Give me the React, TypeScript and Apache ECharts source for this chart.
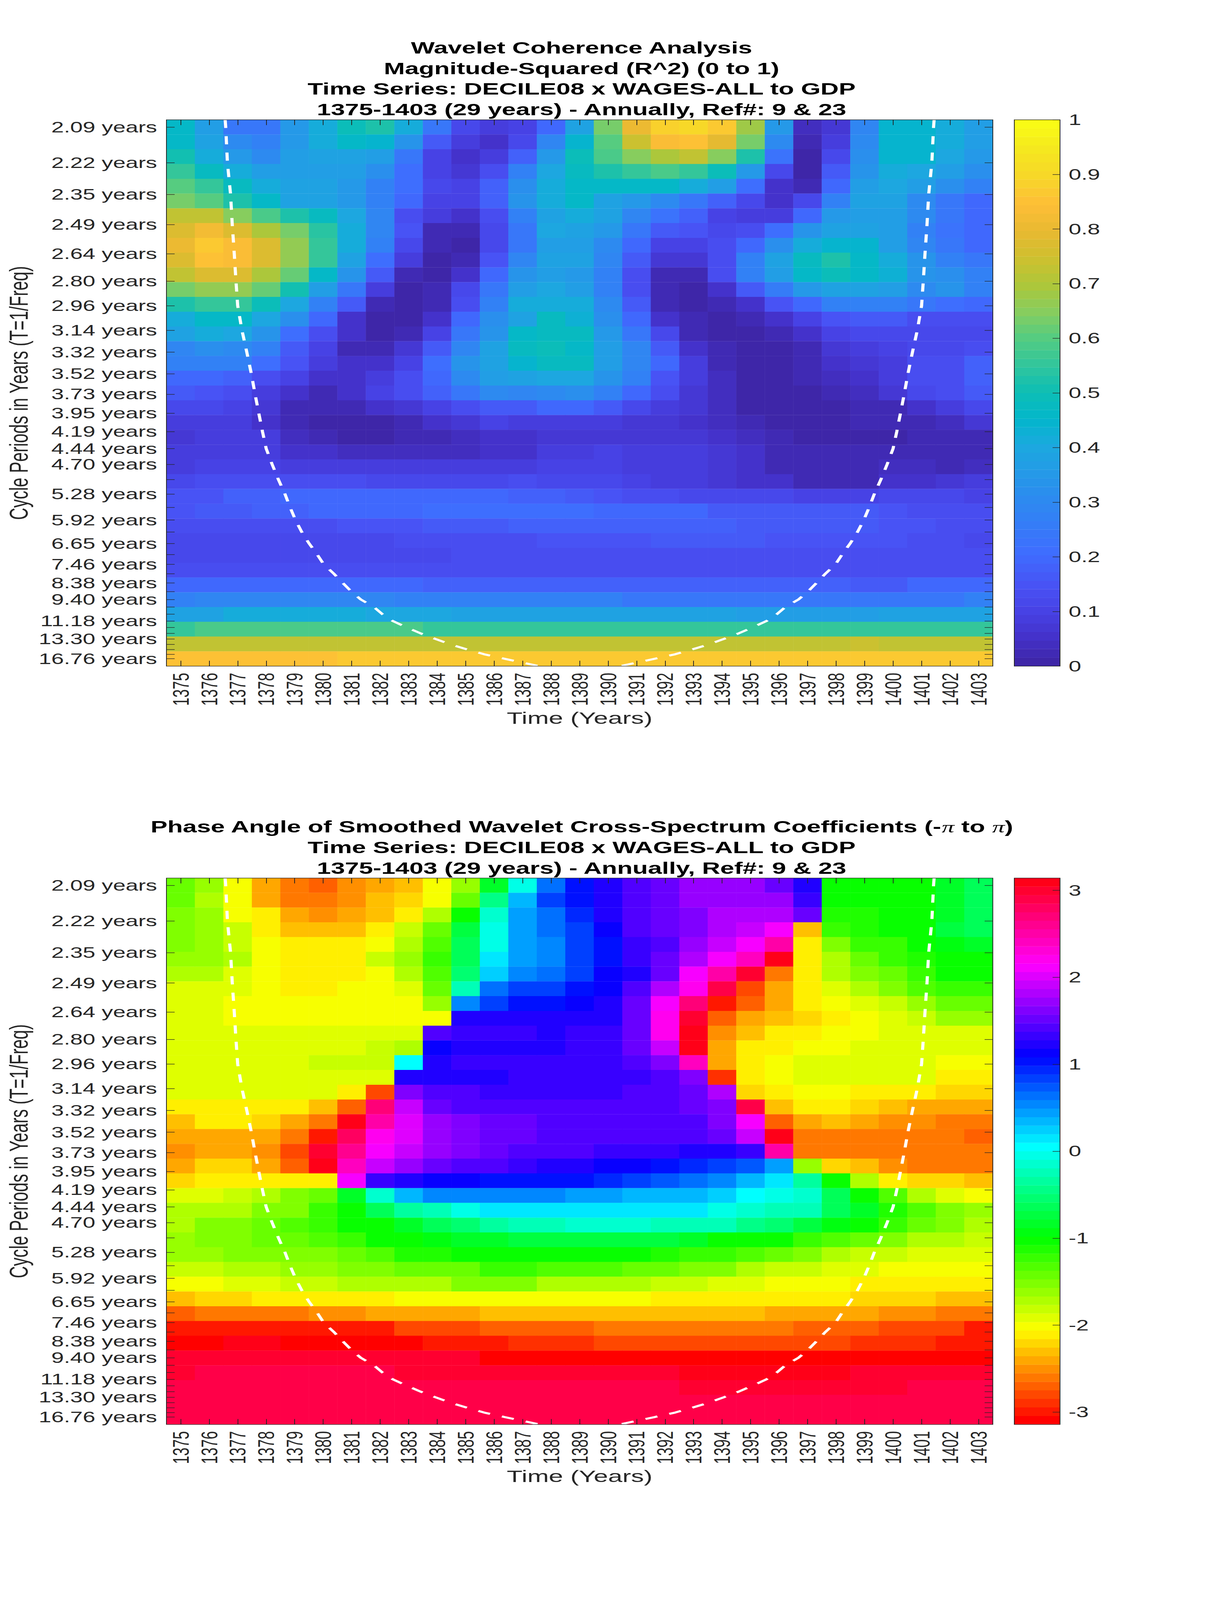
import React, { useEffect, useRef } from "react";
import * as echarts from "echarts";

const years = ["1375","1376","1377","1378","1379","1380","1381","1382","1383","1384","1385","1386","1387","1388","1389","1390","1391","1392","1393","1394","1395","1396","1397","1398","1399","1400","1401","1402","1403"];
const yearTicks = years.map(Number);
const periods = [2.09,2.22,2.35,2.49,2.64,2.80,2.96,3.14,3.32,3.52,3.73,3.95,4.19,4.44,4.70,4.98,5.28,5.59,5.92,6.27,6.65,7.05,7.46,7.90,8.38,8.88,9.40,9.96,10.55,11.18,11.85,12.55,13.30,14.09,14.93,15.82,16.76];
const labelledPeriods = [2.09,2.22,2.35,2.49,2.64,2.80,2.96,3.14,3.32,3.52,3.73,3.95,4.19,4.44,4.70,5.28,5.92,6.65,7.46,8.38,9.40,11.18,13.30,16.76];

const coherenceRows = [
[.46,.36,.25,.25,.35,.41,.49,.52,.41,.25,.12,.09,.10,.19,.39,.63,.81,.88,.90,.87,.68,.35,.04,.07,.29,.44,.44,.41,.37],
[.46,.39,.30,.27,.35,.41,.46,.45,.34,.16,.08,.05,.11,.29,.45,.60,.75,.84,.85,.79,.63,.31,.03,.08,.30,.44,.44,.41,.37],
[.51,.42,.35,.31,.36,.38,.38,.37,.25,.10,.05,.09,.18,.35,.49,.58,.65,.70,.72,.65,.53,.22,.01,.11,.32,.44,.44,.40,.35],
[.55,.48,.41,.37,.37,.37,.37,.32,.21,.10,.07,.14,.28,.40,.47,.53,.55,.58,.56,.50,.35,.12,.01,.16,.34,.42,.40,.37,.32],
[.60,.55,.47,.41,.38,.38,.35,.28,.21,.11,.10,.18,.32,.41,.46,.46,.46,.46,.41,.36,.21,.06,.03,.20,.36,.40,.36,.32,.27],
[.63,.60,.53,.46,.39,.38,.35,.28,.19,.10,.10,.18,.33,.41,.46,.38,.35,.30,.24,.18,.12,.06,.11,.28,.39,.39,.31,.25,.20],
[.72,.72,.65,.59,.53,.47,.40,.29,.14,.08,.05,.14,.28,.39,.41,.39,.29,.22,.18,.10,.08,.09,.20,.35,.37,.37,.30,.25,.20],
[.77,.82,.78,.70,.63,.54,.42,.29,.15,.03,.02,.11,.25,.40,.39,.35,.25,.17,.15,.12,.14,.21,.33,.39,.39,.36,.28,.22,.20],
[.80,.86,.84,.78,.67,.56,.42,.27,.12,.03,.01,.12,.25,.37,.36,.30,.20,.10,.10,.14,.20,.32,.42,.45,.45,.36,.29,.24,.20],
[.78,.85,.84,.78,.67,.55,.38,.21,.08,.01,.03,.15,.29,.38,.38,.29,.16,.07,.07,.14,.28,.39,.47,.53,.46,.41,.33,.28,.25],
[.72,.78,.78,.70,.61,.46,.33,.16,.03,.01,.05,.20,.33,.37,.35,.28,.14,.03,.03,.14,.28,.37,.46,.49,.46,.43,.34,.32,.28],
[.63,.67,.67,.61,.51,.37,.25,.08,.01,.03,.11,.25,.36,.40,.37,.28,.13,.02,.01,.06,.16,.26,.35,.38,.38,.36,.30,.34,.28],
[.53,.56,.55,.50,.40,.28,.16,.03,.01,.03,.14,.28,.41,.42,.42,.31,.16,.03,.00,.02,.06,.15,.20,.27,.28,.28,.25,.21,.20],
[.42,.46,.46,.40,.32,.19,.06,.01,.01,.06,.20,.32,.38,.48,.43,.32,.19,.06,.02,.01,.02,.06,.10,.15,.16,.16,.14,.14,.14],
[.38,.41,.40,.33,.21,.14,.05,.01,.02,.10,.25,.34,.46,.47,.47,.35,.25,.12,.03,.01,.01,.02,.06,.10,.11,.11,.12,.12,.12],
[.29,.32,.30,.27,.16,.10,.03,.02,.07,.16,.29,.38,.47,.50,.46,.37,.29,.16,.06,.02,.01,.01,.02,.07,.08,.10,.11,.12,.14],
[.27,.27,.27,.21,.15,.08,.05,.05,.10,.21,.34,.39,.45,.47,.47,.37,.29,.19,.08,.03,.01,.01,.02,.05,.07,.08,.14,.14,.18],
[.20,.20,.18,.14,.10,.05,.05,.08,.14,.20,.30,.37,.39,.40,.40,.34,.27,.15,.08,.04,.01,.01,.03,.04,.05,.08,.14,.14,.18],
[.16,.15,.14,.09,.06,.03,.05,.10,.14,.18,.25,.30,.29,.30,.32,.27,.20,.14,.07,.04,.01,.01,.01,.03,.04,.07,.11,.14,.16],
[.11,.12,.10,.07,.03,.02,.03,.05,.07,.10,.13,.16,.17,.20,.19,.16,.12,.09,.07,.04,.01,.01,.01,.01,.03,.03,.05,.09,.11],
[.08,.09,.09,.05,.02,.01,.01,.01,.03,.05,.07,.10,.09,.09,.09,.09,.07,.07,.06,.04,.03,.01,.01,.01,.02,.02,.03,.04,.07],
[.07,.08,.08,.08,.04,.03,.01,.01,.02,.03,.04,.05,.05,.07,.07,.07,.07,.07,.07,.05,.04,.03,.01,.01,.01,.01,.02,.03,.03],
[.08,.09,.09,.09,.06,.05,.04,.04,.04,.04,.04,.05,.05,.09,.09,.10,.09,.09,.08,.07,.05,.03,.03,.03,.03,.02,.02,.03,.03],
[.09,.10,.10,.10,.09,.09,.08,.08,.08,.08,.08,.09,.09,.10,.10,.10,.09,.08,.08,.07,.05,.03,.03,.03,.03,.04,.04,.03,.04],
[.12,.13,.13,.13,.13,.13,.13,.12,.12,.12,.12,.12,.13,.12,.11,.11,.10,.09,.08,.07,.05,.05,.03,.03,.03,.05,.05,.07,.08],
[.15,.15,.18,.18,.19,.19,.19,.19,.19,.19,.19,.19,.18,.18,.17,.15,.14,.13,.12,.12,.11,.11,.10,.10,.10,.11,.11,.11,.10],
[.15,.16,.16,.18,.18,.19,.19,.19,.20,.21,.21,.21,.21,.21,.21,.20,.20,.19,.19,.17,.17,.16,.16,.16,.16,.15,.14,.14,.14],
[.13,.13,.13,.13,.14,.14,.15,.15,.15,.17,.17,.17,.18,.18,.18,.18,.18,.18,.18,.18,.17,.17,.17,.16,.16,.15,.15,.14,.14],
[.12,.11,.11,.11,.12,.12,.12,.12,.13,.13,.13,.14,.14,.15,.15,.15,.15,.16,.16,.16,.16,.15,.15,.15,.15,.15,.13,.13,.12],
[.12,.12,.12,.12,.12,.12,.12,.12,.12,.12,.13,.13,.13,.13,.13,.13,.13,.13,.14,.14,.14,.14,.14,.14,.13,.13,.13,.13,.13],
[.14,.14,.14,.14,.14,.14,.14,.14,.14,.14,.14,.14,.14,.14,.14,.14,.14,.14,.14,.14,.14,.14,.14,.14,.14,.14,.14,.14,.14],
[.19,.19,.19,.19,.19,.19,.19,.19,.19,.18,.18,.18,.18,.18,.18,.18,.18,.18,.18,.18,.18,.18,.18,.18,.17,.17,.19,.19,.19],
[.28,.29,.29,.29,.29,.29,.29,.29,.28,.28,.28,.28,.28,.28,.28,.28,.25,.25,.25,.25,.25,.25,.25,.25,.25,.25,.25,.25,.28],
[.39,.39,.41,.41,.41,.41,.41,.40,.40,.40,.39,.38,.38,.39,.38,.38,.38,.38,.38,.38,.37,.36,.36,.36,.36,.38,.38,.38,.38],
[.55,.58,.58,.58,.58,.58,.58,.58,.58,.56,.56,.56,.56,.56,.55,.55,.55,.55,.55,.55,.55,.55,.55,.55,.55,.55,.55,.56,.56],
[.72,.72,.72,.72,.72,.72,.72,.72,.72,.72,.72,.72,.72,.72,.72,.72,.72,.72,.72,.72,.72,.72,.72,.72,.75,.72,.72,.72,.72],
[.85,.85,.85,.85,.85,.85,.86,.86,.86,.86,.86,.86,.86,.86,.86,.86,.86,.86,.86,.86,.86,.86,.86,.86,.86,.86,.86,.86,.86],
];

const phaseRows = [
[-1.45,-1.64,-1.97,-2.38,-2.65,-2.67,-2.55,-2.45,-2.28,-2.06,-1.6,-.85,0,.65,1.05,1.24,1.44,1.57,1.71,1.71,1.71,1.57,1.2,-1.05,-1.05,-1.05,-1.03,-.85,-.65],
[-1.45,-1.67,-1.97,-2.38,-2.58,-2.58,-2.48,-2.35,-2.25,-1.97,-1.45,-.45,.33,.79,1.05,1.25,1.44,1.57,1.71,1.71,1.71,1.71,1.31,-1.05,-1.05,-1.03,-1,-.85,-.65],
[-1.57,-1.64,-1.97,-2.15,-2.38,-2.48,-2.38,-2.28,-2.09,-1.76,-1.05,-.15,.45,.62,.91,1.18,1.38,1.57,1.64,1.77,1.78,1.8,1.55,-1.1,-1.1,-1.05,-1,-.8,-.65],
[-1.57,-1.64,-1.85,-2.09,-2.28,-2.28,-2.28,-2.09,-1.85,-1.44,-.72,0,.45,.62,.79,1.12,1.38,1.55,1.65,1.78,1.96,2.09,-2.35,-1.24,-1.1,-1.05,-1,-.78,-.62],
[-1.57,-1.64,-1.85,-1.97,-2.15,-2.15,-2.09,-1.97,-1.75,-1.3,-.65,0,.42,.58,.79,1.05,1.3,1.44,1.71,1.9,2.09,2.55,-2.09,-1.5,-1.24,-1.18,-1.05,-.93,-.8],
[-1.64,-1.64,-1.75,-1.97,-2.09,-2.09,-2.09,-1.85,-1.64,-1.24,-.65,.12,.45,.58,.85,1.05,1.31,1.55,1.83,2.09,2.45,3.14,-2.09,-1.67,-1.44,-1.24,-1.13,-1.03,-1.03],
[-1.75,-1.75,-1.87,-1.97,-2.09,-2.09,-2.09,-1.97,-1.75,-1.32,-.52,.22,.52,.65,.85,1.12,1.25,1.5,2.09,2.55,2.95,-2.58,-2.09,-1.75,-1.57,-1.38,-1.24,-1.05,-1.05],
[-1.87,-1.87,-1.87,-1.97,-2.09,-2.09,-1.97,-1.97,-1.87,-1.44,-.22,.65,.79,.85,1.05,1.12,1.38,1.83,2.25,2.88,-2.8,-2.45,-2.09,-1.87,-1.67,-1.57,-1.36,-1.24,-1.2],
[-1.87,-1.87,-1.97,-1.97,-1.97,-1.97,-1.97,-1.97,-1.97,-1.64,.58,.85,1.05,1.05,1.13,1.2,1.5,2.09,2.74,-3,-2.67,-2.38,-2.15,-2,-1.9,-1.85,-1.6,-1.42,-1.4],
[-1.87,-1.87,-1.97,-1.97,-1.97,-1.97,-1.97,-1.97,-1.97,-1.97,1.18,1.18,1.18,1.18,1.2,1.25,1.5,2.2,2.95,-2.74,-2.45,-2.28,-2.22,-2.07,-1.97,-1.9,-1.78,-1.65,-1.65],
[-1.87,-1.87,-1.87,-1.87,-1.87,-1.87,-1.87,-1.87,-1.87,1.38,1.28,1.28,1.28,1.22,1.28,1.33,1.57,2.2,3.14,-2.55,-2.35,-2.15,-2.09,-1.97,-1.97,-1.87,-1.87,-1.87,-1.87],
[-1.87,-1.87,-1.87,-1.87,-1.87,-1.87,-1.87,-1.78,-1.67,1.13,1.27,1.27,1.27,1.22,1.28,1.33,1.5,1.96,3.14,-2.45,-2.15,-2.09,-1.97,-1.97,-1.87,-1.87,-1.87,-1.87,-1.87],
[-1.87,-1.87,-1.87,-1.87,-1.87,-1.78,-1.78,-1.78,.08,1.18,1.28,1.28,1.28,1.28,1.33,1.33,1.44,1.64,2.45,-2.38,-2.09,-1.97,-1.87,-1.87,-1.87,-1.87,-1.87,-1.97,-1.97],
[-1.87,-1.87,-1.87,-1.87,-1.87,-1.87,-1.87,-1.87,1.27,1.27,1.27,1.27,1.31,1.32,1.32,1.32,1.32,1.44,1.64,-2.85,-2.09,-1.97,-1.87,-1.87,-1.87,-1.93,-1.93,-2.09,-2.09],
[-1.92,-1.92,-1.92,-1.92,-1.92,-1.92,-2.15,-2.8,1.6,1.38,1.38,1.32,1.32,1.32,1.32,1.32,1.42,1.42,1.5,1.83,-2.25,-2.09,-1.97,-1.97,-2.07,-2.15,-2.15,-2.25,-2.25],
[-2.07,-2.07,-2.07,-2.07,-2.15,-2.28,-2.67,2.74,1.96,1.57,1.45,1.38,1.4,1.42,1.44,1.44,1.44,1.44,1.5,1.58,2.85,-2.28,-2.15,-2.15,-2.25,-2.35,-2.45,-2.45,-2.45],
[-2.28,-2.15,-2.15,-2.25,-2.38,-2.65,3.14,2.55,2.02,1.72,1.65,1.55,1.55,1.46,1.46,1.46,1.46,1.46,1.44,1.6,2.12,-2.74,-2.45,-2.35,-2.45,-2.55,-2.55,-2.65,-2.65],
[-2.38,-2.38,-2.38,-2.38,-2.58,-2.95,2.8,2.25,2,1.68,1.62,1.5,1.5,1.44,1.44,1.44,1.44,1.44,1.44,1.5,1.87,3.14,-2.58,-2.58,-2.58,-2.65,-2.65,-2.65,-2.74],
[-2.48,-2.38,-2.38,-2.48,-2.78,3,2.62,2.15,1.87,1.72,1.65,1.52,1.44,1.45,1.45,1.33,1.33,1.33,1.26,1.26,1.33,2.55,-2.58,-2.58,-2.58,-2.65,-2.65,-2.65,-2.65],
[-2.38,-2.25,-2.25,-2.38,-2.67,3.14,2.45,1.96,1.72,1.5,1.44,1.44,1.33,1.25,1.25,1.13,1.13,1.05,.98,.85,.72,.45,-1.64,-2.25,-2.35,-2.48,-2.58,-2.58,-2.58],
[-2.2,-2.07,-2.07,-2.07,-2.07,-2.13,2.09,1.31,1.18,1.12,1.12,1.05,1.05,1.05,1.05,.91,.79,.72,.65,.52,.33,.12,-.35,-1.05,-1.75,-2.09,-2.25,-2.25,-2.35],
[-1.87,-1.87,-1.78,-1.67,-1.57,-1.38,-.85,-.18,.33,.5,.58,.58,.58,.58,.48,.48,.39,.39,.33,.2,.08,0,-.15,-.6,-1,-1.3,-1.67,-1.87,-1.97],
[-1.67,-1.67,-1.67,-1.57,-1.5,-1.24,-1,-.65,-.35,-.22,0,.1,.1,.1,.1,.1,.1,.1,.1,0,-.12,-.22,-.22,-.6,-.85,-1.1,-1.34,-1.5,-1.64],
[-1.67,-1.57,-1.57,-1.44,-1.34,-1.24,-1.05,-1.05,-.8,-.6,-.55,-.35,-.26,-.26,-.18,-.18,-.18,-.28,-.28,-.28,-.4,-.52,-.72,-.9,-1.05,-1.24,-1.44,-1.53,-1.67],
[-1.62,-1.53,-1.53,-1.44,-1.44,-1.34,-1.24,-1.05,-1.05,-.95,-.87,-.87,-.72,-.72,-.72,-.72,-.72,-.72,-.87,-1,-1.05,-1.05,-1.18,-1.3,-1.44,-1.5,-1.67,-1.67,-1.78],
[-1.64,-1.64,-1.55,-1.55,-1.55,-1.55,-1.44,-1.3,-1.15,-1.15,-1.05,-1.05,-1.05,-1.05,-1.05,-1.05,-1.05,-1.13,-1.2,-1.2,-1.34,-1.44,-1.57,-1.67,-1.78,-1.78,-1.87,-1.87,-1.87],
[-1.78,-1.78,-1.67,-1.67,-1.62,-1.62,-1.5,-1.5,-1.4,-1.4,-1.4,-1.27,-1.27,-1.32,-1.32,-1.32,-1.44,-1.44,-1.57,-1.57,-1.67,-1.78,-1.78,-1.87,-1.87,-1.97,-1.97,-1.97,-1.97],
[-1.97,-1.97,-1.87,-1.87,-1.78,-1.78,-1.67,-1.67,-1.67,-1.67,-1.57,-1.57,-1.57,-1.67,-1.67,-1.67,-1.67,-1.78,-1.78,-1.87,-1.87,-1.97,-1.97,-1.97,-2.09,-2.09,-2.09,-2.09,-2.09],
[-2.35,-2.25,-2.25,-2.15,-2.15,-2.15,-2.09,-2.09,-1.97,-1.97,-1.97,-1.97,-1.97,-1.97,-1.97,-1.97,-1.97,-2.09,-2.09,-2.09,-2.09,-2.15,-2.15,-2.15,-2.25,-2.25,-2.25,-2.35,-2.35],
[-2.74,-2.65,-2.65,-2.65,-2.65,-2.55,-2.55,-2.45,-2.45,-2.45,-2.45,-2.35,-2.35,-2.35,-2.35,-2.35,-2.35,-2.35,-2.35,-2.35,-2.35,-2.45,-2.45,-2.45,-2.45,-2.55,-2.55,-2.65,-2.65],
[-3,-3,-3,-3,-3,-2.95,-2.95,-2.95,-2.82,-2.82,-2.82,-2.74,-2.74,-2.74,-2.74,-2.65,-2.65,-2.65,-2.65,-2.65,-2.65,-2.65,-2.74,-2.74,-2.74,-2.82,-2.82,-2.82,-2.95],
[-3.13,-3.13,3.07,3.07,-3.12,-3.12,-3.12,-3.12,-3.12,-3,-3,-3,-2.88,-2.88,-2.88,-2.8,-2.8,-2.8,-2.8,-2.8,-2.8,-2.8,-2.8,-2.8,-2.92,-2.92,-2.92,-3,-3],
[2.95,2.95,2.95,2.95,2.95,2.95,2.95,2.95,3,3,3,-3.12,-3.12,-3.12,-3.12,-3.05,-3.05,-3.05,-3.05,-3.05,-3.05,-3.05,-3.05,-3.05,-3.05,-3.05,-3.12,-3.12,-3.12],
[2.95,2.85,2.85,2.85,2.85,2.85,2.85,2.85,2.95,2.95,2.95,2.95,2.95,3.03,3.03,3.03,3.03,3.03,3.12,3.12,3.12,3.12,3.12,3.12,3.02,3.02,3.02,3.02,3.02],
[2.85,2.85,2.85,2.85,2.85,2.85,2.85,2.85,2.85,2.85,2.85,2.85,2.92,2.92,2.92,2.92,2.92,2.92,2.98,2.98,2.98,2.98,2.98,2.98,2.98,2.98,2.9,2.9,2.9],
[2.85,2.85,2.85,2.85,2.85,2.85,2.85,2.85,2.85,2.85,2.85,2.85,2.85,2.85,2.85,2.92,2.92,2.92,2.92,2.92,2.92,2.92,2.92,2.92,2.92,2.92,2.92,2.92,2.92],
[2.85,2.85,2.85,2.85,2.85,2.85,2.85,2.85,2.85,2.85,2.85,2.85,2.85,2.85,2.85,2.85,2.85,2.85,2.85,2.85,2.92,2.92,2.92,2.92,2.92,2.92,2.85,2.85,2.85],
];

// cone of influence: period (years) and the year on each flank
const coiPeriods = [2.065,2.09,2.22,2.35,2.49,2.64,2.80,2.96,3.14,3.32,3.52,3.73,3.95,4.19,4.44,4.70,4.98,5.28,5.59,5.92,6.27,6.65,7.05,7.46,7.90,8.38,8.88,9.40,9.96,10.55,11.18,11.85,12.55,13.30,14.09,14.93,15.82,16.76,18.56];
const coiLeftYears = [1376.56,1376.58,1376.64,1376.75,1376.81,1376.88,1376.94,1377.0,1377.15,1377.32,1377.48,1377.61,1377.74,1377.87,1378.0,1378.21,1378.43,1378.66,1378.84,1379.03,1379.25,1379.51,1379.79,1380.02,1380.38,1380.69,1380.99,1381.32,1381.78,1382.08,1382.44,1382.93,1383.42,1383.95,1384.47,1385.06,1385.65,1386.37,1387.58];
const coiRightYears = [1401.44,1401.42,1401.36,1401.25,1401.19,1401.12,1401.06,1401.0,1400.85,1400.68,1400.52,1400.39,1400.26,1400.13,1400.0,1399.79,1399.57,1399.34,1399.16,1398.97,1398.75,1398.49,1398.21,1397.98,1397.62,1397.31,1397.01,1396.68,1396.22,1395.92,1395.56,1395.07,1394.58,1394.05,1393.53,1392.94,1392.35,1391.63,1390.42];

const coherenceTicks = [0,0.1,0.2,0.3,0.4,0.5,0.6,0.7,0.8,0.9,1];
const phaseTicks = [-3,-2,-1,0,1,2,3];
const coherenceTitle = "Wavelet Coherence Analysis\nMagnitude-Squared (R^2) (0 to 1)\nTime Series: DECILE08 x WAGES-ALL to GDP\n1375-1403 (29 years) - Annually, Ref#: 9 & 23";
const phaseTitle = "Phase Angle of Smoothed Wavelet Cross-Spectrum Coefficients (-{pi|π} to {pi|π})\nTime Series: DECILE08 x WAGES-ALL to GDP\n1375-1403 (29 years) - Annually, Ref#: 9 & 23";

const parulaStops: [number, string][] = [
  [0,"#3E26A8"],[0.05,"#4433CD"],[0.1,"#4744E8"],[0.14,"#4852F4"],[0.2,"#3F6CFF"],[0.3,"#2D8AF0"],[0.4,"#1CA8DF"],[0.45,"#03B6CC"],[0.5,"#0CBEB5"],[0.55,"#30C59D"],[0.6,"#53CC82"],[0.65,"#86CD5F"],[0.7,"#ADC73A"],[0.75,"#CEC02F"],[0.8,"#E8B931"],[0.85,"#FEBE37"],[0.9,"#F7D629"],[0.95,"#F5E71F"],[1,"#F9FB15"],
];
const LEVELS = 64;
const hex = (c: string) => [1, 3, 5].map((i) => parseInt(c.slice(i, i + 2), 16));
function parula(t: number) {
  let k = 0;
  while (k < parulaStops.length - 2 && t > parulaStops[k + 1][0]) k++;
  const [a, ca] = parulaStops[k];
  const [b, cb] = parulaStops[k + 1];
  const f = (t - a) / (b - a);
  const A = hex(ca), B = hex(cb);
  return `rgb(${A.map((v, i) => Math.round(v + (B[i] - v) * f)).join(",")})`;
}
function hsvColor(i: number) {
  return `hsl(${(i / LEVELS) * 360},100%,50%)`;
}
function pieces(min: number, max: number, colorOf: (i: number) => string) {
  return Array.from({ length: LEVELS }, (_, i) => ({
    min: i === 0 ? min - 1 : min + ((max - min) * i) / LEVELS,
    max: i === LEVELS - 1 ? max + 1 : min + ((max - min) * (i + 1)) / LEVELS,
    color: colorOf(i),
  }));
}

const PI = Math.PI;
const freq = periods.map((p) => 1 / p);
const step = (freq[0] - freq[freq.length - 1]) / (freq.length - 1);
const fMax = freq[0] + step / 2;
const fMin = freq[freq.length - 1] - step / 2;

const FONT = "Liberation Sans";
const TXT = "#262626";
const PAGE_W = 3125, PAGE_H = 6252;
const PLOT_L = 426, PLOT_W = 2115, PLOT_H = 2135, BAR_L = 2596, BAR_W = 117;
const TICK = 21;

function buildPanel(opts: {
  top: number; rows: number[][]; vMin: number; vMax: number; ticks: number[];
  colorOf: (i: number) => string; title: string; titleTop: number;
}, o: any) {
  const { top, rows, vMin, vMax, ticks, colorOf, title, titleTop } = opts;
  const gMain = o.grid.length, gBar = gMain + 1;
  o.grid.push(
    { left: PLOT_L, top, width: PLOT_W, height: PLOT_H, outerBoundsMode: "none" },
    { left: BAR_L, top, width: BAR_W, height: PLOT_H, outerBoundsMode: "none" }
  );
  o.title.push({
    text: title, left: PLOT_L + PLOT_W / 2, top: titleTop, textAlign: "center",
    textStyle: {
      fontFamily: FONT, fontSize: 64.5, fontWeight: "bold", color: "#000", lineHeight: 80.5,
      rich: { pi: { fontFamily: "Liberation Serif", fontStyle: "italic", fontWeight: "normal", fontSize: 64.5, lineHeight: 80.5, color: "#000" } },
    },
  });
  const xBase = o.xAxis.length, yBase = o.yAxis.length;
  const common = { z: 5, splitLine: { show: false }, axisLine: { show: false, onZero: false } };
  const tickStyle = { show: true, inside: true, length: TICK, lineStyle: { color: TXT, width: 2 } };
  o.xAxis.push(
    {
      ...common, type: "category", gridIndex: gMain, position: "bottom", data: years,
      axisTick: { ...tickStyle, alignWithLabel: true, interval: 0 },
      axisLabel: { interval: 0, rotate: 90, margin: 26, fontFamily: FONT, fontSize: 58, color: TXT },
      name: "Time (Years)", nameLocation: "middle", nameGap: 169,
      nameTextStyle: { fontFamily: FONT, fontSize: 66, color: TXT },
    },
    {
      ...common, type: "value", gridIndex: gMain, position: "top", min: 1374.5, max: 1403.5,
      axisTick: { ...tickStyle, customValues: yearTicks }, axisLabel: { show: false },
    },
    { ...common, type: "category", gridIndex: gBar, position: "bottom", data: ["bar"], axisTick: { show: false }, axisLabel: { show: false } }
  );
  const levels = Array.from({ length: LEVELS }, (_, i) => i);
  o.yAxis.push(
    {
      ...common, show: false, type: "category", gridIndex: gMain, inverse: true, position: "left",
      data: periods.map(String),
    },
    {
      ...common, type: "value", gridIndex: gMain, position: "left", min: fMin, max: fMax,
      axisTick: { ...tickStyle, customValues: freq },
      axisLabel: {
        customValues: labelledPeriods.map((p) => 1 / p),
        formatter: (v: number) => `${(1 / v).toFixed(2)} years`,
        margin: 24, fontFamily: FONT, fontSize: 58, color: TXT,
      },
      name: "Cycle Periods in Years (T=1/Freq)", nameLocation: "middle", nameGap: 345, nameRotate: 90,
      nameTextStyle: { fontFamily: FONT, fontSize: 66, color: TXT },
    },
    {
      ...common, type: "value", gridIndex: gMain, position: "right", min: fMin, max: fMax,
      axisTick: { ...tickStyle, customValues: freq }, axisLabel: { show: false },
    },
    { ...common, show: false, type: "category", gridIndex: gBar, position: "left", data: levels.map(String) },
    {
      ...common, type: "value", gridIndex: gBar, position: "right", min: vMin, max: vMax,
      axisTick: { ...tickStyle, length: 19, customValues: ticks },
      axisLabel: { customValues: ticks, formatter: (v: number) => String(v), margin: 22, fontFamily: FONT, fontSize: 58, color: TXT },
    }
  );
  const sMain = o.series.length;
  const cells: number[][] = [];
  rows.forEach((r, y) => r.forEach((v, x) => cells.push([x, y, v])));
  o.series.push(
    { type: "heatmap", name: "cells", xAxisIndex: xBase, yAxisIndex: yBase, data: cells, z: 1, silent: true, itemStyle: { borderWidth: 0 } },
    {
      type: "heatmap", name: "colorbar", xAxisIndex: xBase + 2, yAxisIndex: yBase + 3, z: 1, silent: true,
      data: levels.map((i) => [0, i, vMin + ((vMax - vMin) * (i + 0.5)) / LEVELS]),
    }
  );
  [coiLeftYears, coiRightYears].forEach((ys, k) =>
    o.series.push({
      type: "line", name: k ? "coi right" : "coi left", xAxisIndex: xBase + 1, yAxisIndex: yBase + 1, z: 3,
      showSymbol: false, silent: true, clip: true,
      lineStyle: { color: "#fff", width: 8, type: [32, 32] },
      data: ys.map((y, i) => [y, 1 / coiPeriods[i]]),
    })
  );
  o.visualMap.push({
    type: "piecewise", show: false, seriesIndex: [sMain, sMain + 1], dimension: 2,
    pieces: pieces(vMin, vMax, colorOf),
  });
  const frame = (x: number, w: number) => ({
    type: "rect", z: 100, silent: true, shape: { x, y: top, width: w, height: PLOT_H },
    style: { fill: "none", stroke: TXT, lineWidth: 2 },
  });
  o.graphic.push(frame(PLOT_L, PLOT_W), frame(BAR_L, BAR_W));
}

export default function App() {
  const ref = useRef<HTMLDivElement>(null);
  // Laid out in the reference's coordinates. If the window is shorter than the
  // reference, the chart is compressed vertically so both panels stay on the page.
  const fit = Math.min(1, window.innerHeight / PAGE_H);
  useEffect(() => {
    document.body.style.margin = "0";
    const chart = echarts.init(ref.current!, undefined, { renderer: "svg" });
    const o: any = { animation: false, backgroundColor: "#fff", title: [], grid: [], xAxis: [], yAxis: [], series: [], visualMap: [], graphic: [] };
    buildPanel({ top: 468, rows: coherenceRows, vMin: 0, vMax: 1, ticks: coherenceTicks, colorOf: (i) => parula(i / (LEVELS - 1)), title: coherenceTitle, titleTop: 142 }, o);
    buildPanel({ top: 3431, rows: phaseRows, vMin: -PI, vMax: PI, ticks: phaseTicks, colorOf: hsvColor, title: phaseTitle, titleTop: 3186 }, o);
    chart.setOption(o);
    return () => chart.dispose();
  }, []);
  return (
    <div style={{ width: PAGE_W, height: PAGE_H * fit, overflow: "hidden" }}>
      <div ref={ref} style={{ width: PAGE_W, height: PAGE_H, transform: `scaleY(${fit})`, transformOrigin: "0 0" }} />
    </div>
  );
}
